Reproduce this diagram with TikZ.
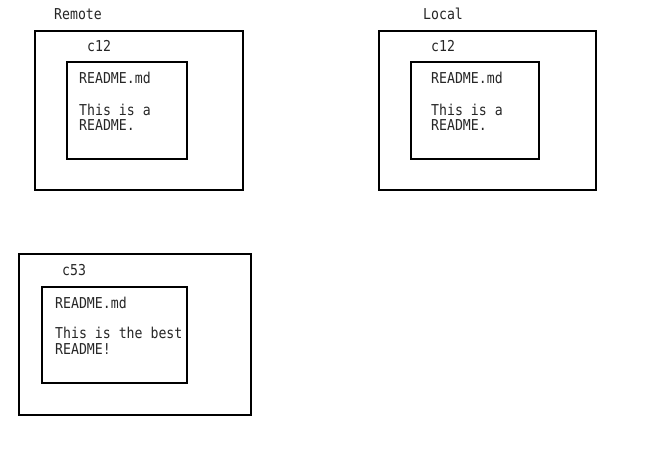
\documentclass[tikz,border=0pt]{standalone}
\usepackage{fontspec}
\newfontfamily\monofnt{DejaVu Sans Mono}[FakeStretch=0.88]
\begin{document}
\begin{tikzpicture}[x=1pt,y=-1pt,
  boxline/.style={draw=black,line width=1.6pt},
  txt/.style={anchor=base west,inner sep=0pt,font=\monofnt\fontsize{15}{17}\selectfont,text=black!85}]
\useasboundingbox (0,0) rectangle (655,451);
% Remote
\draw[boxline] (35,31) rectangle (243,190);
\draw[boxline] (67,62) rectangle (187,159);
\node[txt] (remote) at (54,19) {Remote};
\node[txt] (rc) at (87,51) {c12};
\node[txt] (rf) at (79,83) {README.md};
\node[txt] (rt1) at (79,115) {This is a};
\node[txt] (rt2) at (79,130) {README.};
% Local
\draw[boxline] (379,31) rectangle (596,190);
\draw[boxline] (411,62) rectangle (539,159);
\node[txt] (local) at (423,19) {Local};
\node[txt] (lc) at (431,51) {c12};
\node[txt] (lf) at (431,83) {README.md};
\node[txt] (lt1) at (431,115) {This is a};
\node[txt] (lt2) at (431,130) {README.};
% c53
\draw[boxline] (19,254) rectangle (251,415);
\draw[boxline] (42,287) rectangle (187,383);
\node[txt] (cc) at (62,275) {c53};
\node[txt] (cf) at (55,308) {README.md};
\node[txt] (ct1) at (55,338) {This is the best};
\node[txt] (ct2) at (55,354) {README!};
\end{tikzpicture}
\end{document}
